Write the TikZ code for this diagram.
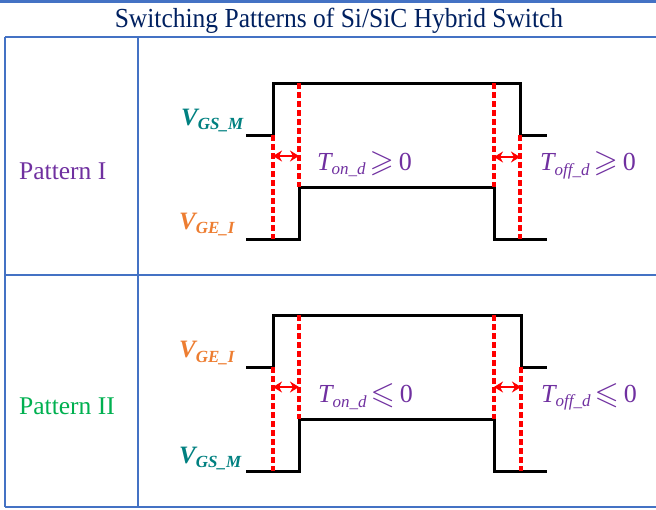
\documentclass[tikz,border=0pt]{standalone}
\usepackage{fontspec}
\usepackage{amssymb}
\usepackage{graphicx}
\setmainfont{Liberation Serif}
\usetikzlibrary{arrows.meta}
\definecolor{framecol}{RGB}{68,114,196}
\definecolor{titlecol}{RGB}{0,32,96}
\definecolor{tealcol}{RGB}{0,128,128}
\definecolor{orangecol}{RGB}{237,125,49}
\definecolor{purplecol}{RGB}{112,48,160}
\definecolor{greencol}{RGB}{0,176,80}
\newcommand\lsub[1]{\raisebox{-4.5pt}{\fontsize{17}{17}\selectfont #1}}
\newcommand\vlab[2]{\bfseries\itshape V\lsub{#1\_#2}}
\newcommand\tlab[3]{{\itshape T\lsub{#1\_d}}\hspace{4pt}\raisebox{-1pt}{\scalebox{1.2}{$#2$}}\hspace{5pt}#3}
\begin{document}
\begin{tikzpicture}[x=1pt,y=-1pt,
  wave/.style={line width=3pt,black,line join=miter},
  guide/.style={red,line width=3.2pt,dash pattern=on 6pt off 3pt},
  gap/.style={red,line width=2.8pt,{Stealth[length=9pt,width=11pt]}-{Stealth[length=9pt,width=11pt]}},
  framel/.style={color=framecol,line width=2pt},
  lab/.style={inner sep=0pt,anchor=base west},
  sig/.style={lab,font=\fontsize{25}{28}\selectfont},
  tl/.style={lab,text=purplecol,font=\fontsize{26}{30}\selectfont},
  pat/.style={lab,font=\fontsize{25.5}{30}\selectfont}]
\useasboundingbox (0,0) rectangle (656,509);
% frame
\draw[framel,line width=3pt] (0,1.5) -- (656,1.5);
\draw[framel] (5,37) -- (656,37);
\draw[framel] (5,37) -- (5,507);
\draw[framel] (138,37) -- (138,507);
\draw[framel] (5,274.5) -- (656,274.5);
\draw[framel] (5,507) -- (656,507);
% title
\node[inner sep=0pt,anchor=base,text=titlecol,font=\fontsize{25.5}{30}\selectfont] (title) at (339,27.5) {\scalebox{1}[1.08]{Switching Patterns of Si/SiC Hybrid Switch}};
% pattern names
\node[pat,text=purplecol] (p1) at (19,179.5) {Pattern I};
\node[pat,text=greencol] (p2) at (19,414) {Pattern II};
% ---- Pattern I ----
\draw[wave] (246,135) -- (273,135) -- (273,83) -- (520,83) -- (520,135) -- (547,135);
\draw[wave] (246,239) -- (299,239) -- (299,187) -- (494,187) -- (494,239) -- (547,239);
\draw[guide] (273,135) -- (273,239);
\draw[guide] (299,83) -- (299,187);
\draw[guide] (494,83) -- (494,187);
\draw[guide] (520,135) -- (520,239);
\coordinate (a1l) at (273,156);
\coordinate (a1r) at (299,156);
\coordinate (b1l) at (494,157);
\coordinate (b1r) at (520,157);
\draw[gap] (a1l) -- (a1r);
\draw[gap] (b1l) -- (b1r);
\node[sig,text=tealcol] (vgs1) at (181,125) {\vlab{GS}{M}};
\node[sig,text=orangecol] (vge1) at (179,229) {\vlab{GE}{I}};
\node[tl] (ton1) at (317,170) {\tlab{on}{\geqslant}{0}};
\node[tl] (toff1) at (540,170.5) {\tlab{off}{\geqslant}{0}};
% ---- Pattern II ----
\draw[wave] (246,367) -- (273,367) -- (273,315) -- (521,315) -- (521,367) -- (547,367);
\draw[wave] (246,471) -- (299,471) -- (299,419) -- (494,419) -- (494,471) -- (547,471);
\draw[guide] (273,367) -- (273,471);
\draw[guide] (299,315) -- (299,419);
\draw[guide] (494,315) -- (494,419);
\draw[guide] (521,367) -- (521,471);
\coordinate (a2l) at (273,387);
\coordinate (a2r) at (299,387);
\coordinate (b2l) at (494,387);
\coordinate (b2r) at (521,387);
\draw[gap] (a2l) -- (a2r);
\draw[gap] (b2l) -- (b2r);
\node[sig,text=orangecol] (vge2) at (179,357.5) {\vlab{GE}{I}};
\node[sig,text=tealcol] (vgs2) at (179,463) {\vlab{GS}{M}};
\node[tl] (ton2) at (318,402.5) {\tlab{on}{\leqslant}{0}};
\node[tl] (toff2) at (541,402) {\tlab{off}{\leqslant}{0}};
\end{tikzpicture}
\end{document}
